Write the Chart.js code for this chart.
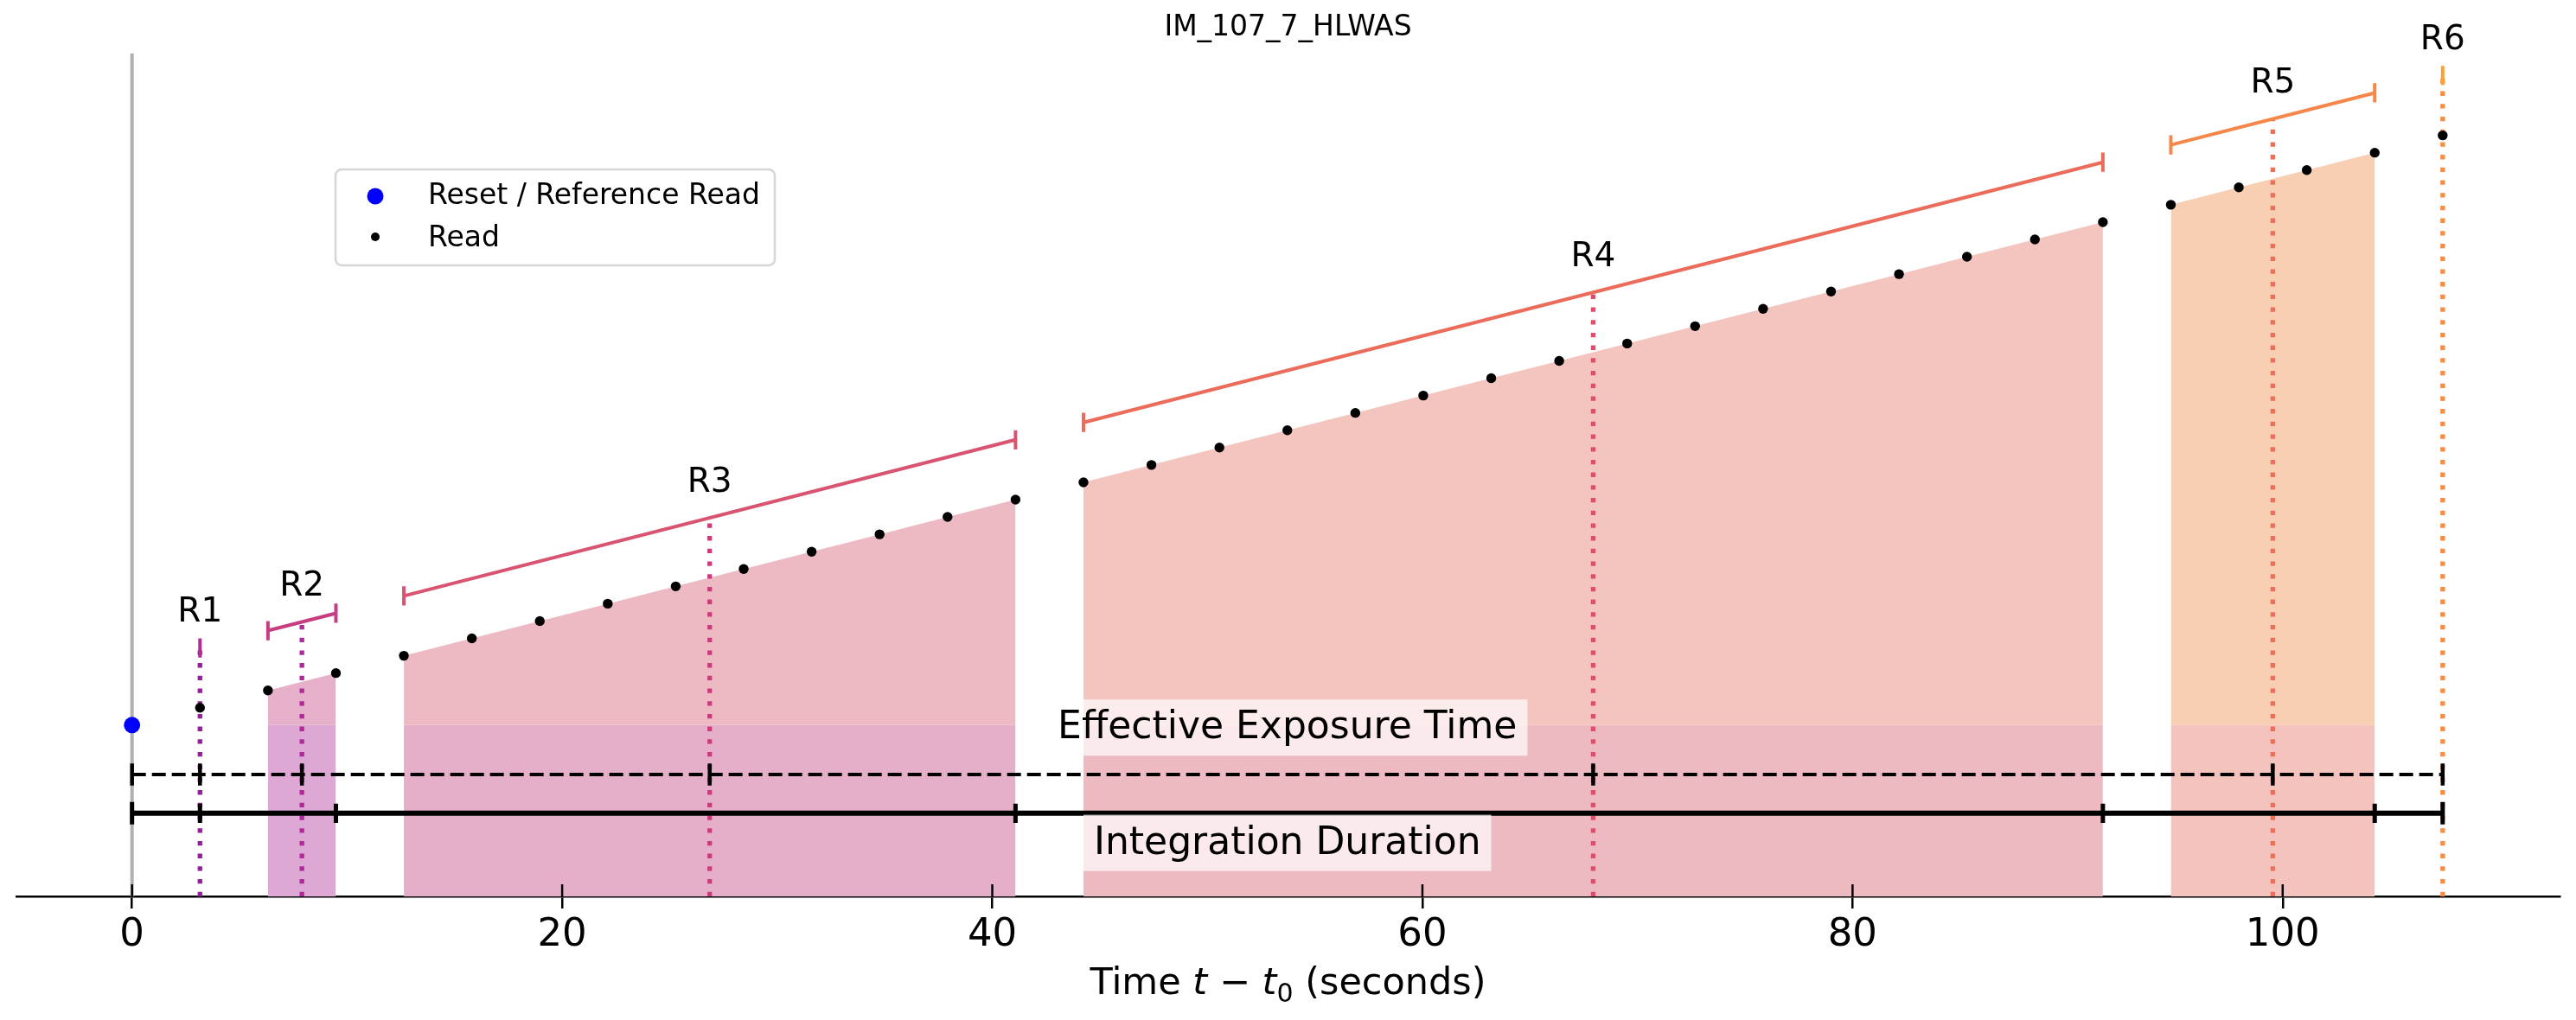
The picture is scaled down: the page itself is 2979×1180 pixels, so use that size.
<!DOCTYPE html>
<html>
<head>
<meta charset="utf-8">
<script src="https://cdn.jsdelivr.net/npm/chart.js@4.4.0/dist/chart.umd.min.js"></script>
<style>
  html, body { margin: 0; padding: 0; background: #fff; }
  #wrap { width: 2979px; height: 1180px; }
</style>
</head>
<body>
<div id="wrap"><canvas id="chart" width="2979" height="1180"></canvas></div>
<script>
// ---- data ----
const groupLabels = ['R1', 'R2', 'R3', 'R4', 'R5', 'R6'];
const groupSizes = [1, 2, 10, 16, 4, 1];
const resetTime = 0;
const resetSignal = 0;
const readTimes = [3.16, 6.32, 9.48, 12.64, 15.80, 18.96, 22.12, 25.28, 28.44, 31.60,
  34.76, 37.92, 41.08, 44.24, 47.40, 50.56, 53.72, 56.88, 60.04, 63.20, 66.36, 69.52,
  72.68, 75.84, 79.00, 82.16, 85.32, 88.48, 91.64, 94.80, 97.96, 101.12, 104.28, 107.44];
const readSignal = [3.16, 6.32, 9.48, 12.64, 15.80, 18.96, 22.12, 25.28, 28.44, 31.60,
  34.76, 37.92, 41.08, 44.24, 47.40, 50.56, 53.72, 56.88, 60.04, 63.20, 66.36, 69.52,
  72.68, 75.84, 79.00, 82.16, 85.32, 88.48, 91.64, 94.80, 97.96, 101.12, 104.28, 107.44];
const xTickStep = 20;
const xLimits = [-5.375, 112.875];
const yLimits = [-31.2, 122.4];

// ---- styling ----
const FONT = '"DejaVu Sans", sans-serif';
const dottedColors = ['#9a1ba0', '#b0289a', '#c93d7c', '#da506c', '#e9705a', '#f68c45'];
const bracketColors = ['#b42c92', '#c63e81', '#d95470', '#eb6c5a', '#f6874a', '#f9a135'];
const fillTopColors = ['#e6b0cb', '#e6b0cb', '#edbac3', '#f4c4be', '#f9cfb4', '#f9cfb4'];
const fillLowColors = ['#dda8d4', '#dda8d4', '#e5afc9', '#edbac2', '#f4c3bd', '#f4c3bd'];
const BRACKET_OFF = 10.9;   // bracket above the reads
const LABEL_OFF = 17.9;     // group name above the reads
const CAP = 1.75;           // bracket end cap half height
const EFF_Y = -9.0;
const INT_Y = -16.05;
const EFF_TEXT_Y = 0.1;
const INT_TEXT_Y = -20.9;

// ---- build groups ----
const groups = [];
let k = 0;
groupSizes.forEach((n, i) => {
  const t = readTimes.slice(k, k + n);
  const s = readSignal.slice(k, k + n);
  k += n;
  const mean = a => a.reduce((p, q) => p + q, 0) / a.length;
  groups.push({ i, label: groupLabels[i], t, s, n,
    start: t[0], end: t[n - 1], sStart: s[0], sEnd: s[n - 1], mid: mean(t), midS: mean(s) });
});
const lastT = readTimes[readTimes.length - 1];

const gap = xv => ({ x: xv, y: null });
function tickMarks(xs, yc, half) {
  const pts = [];
  xs.forEach((xv, j) => {
    const h = typeof half === 'function' ? half(j) : half;
    if (j > 0) pts.push(gap(xv));
    pts.push({ x: xv, y: yc - h }, { x: xv, y: yc + h });
  });
  return pts;
}
function lineSet(data, color, width, extra) {
  return Object.assign({ type: 'line', data, borderColor: color, borderWidth: width,
    pointRadius: 0, fill: false, spanGaps: false, borderCapStyle: 'butt' }, extra || {});
}

const datasets = [];
datasets.push({ type: 'scatter', label: 'Reset / Reference Read', data: [{ x: resetTime, y: resetSignal }],
  pointRadius: 9.5, backgroundColor: '#0000ff', borderWidth: 0, order: 0 });
datasets.push({ type: 'scatter', label: 'Read', data: readTimes.map((t, j) => ({ x: t, y: readSignal[j] })),
  pointRadius: 5.7, backgroundColor: '#000', borderWidth: 0, order: 1 });

const effTicks = [resetTime].concat(groups.map(g => g.mid));
const intTicks = [resetTime].concat(groups.map(g => g.end));
datasets.push(lineSet([{ x: resetTime, y: EFF_Y }, { x: lastT, y: EFF_Y }], '#000', 4, { borderDash: [16, 7], order: 2 }));
datasets.push(lineSet(tickMarks(effTicks, EFF_Y, 2.0), '#000', 4.5, { order: 2 }));
datasets.push(lineSet([{ x: resetTime, y: INT_Y }, { x: lastT, y: INT_Y }], '#000', 6, { order: 2 }));
datasets.push(lineSet(tickMarks(intTicks, INT_Y, j => (j === 0 || j === intTicks.length - 1) ? 2.05 : 1.75), '#000', 5, { order: 2 }));

groups.forEach(g => {
  const y0 = g.sStart + BRACKET_OFF, y1 = g.sEnd + BRACKET_OFF;
  const pts = [{ x: g.start, y: y0 - CAP }, { x: g.start, y: y0 + CAP }, gap(g.start),
    { x: g.start, y: y0 }, { x: g.end, y: y1 }, gap(g.end),
    { x: g.end, y: y1 - CAP }, { x: g.end, y: y1 + CAP }];
  datasets.push(lineSet(pts, bracketColors[g.i], 4, { order: 3 }));
});
groups.forEach(g => {
  const top = g.midS + BRACKET_OFF;
  datasets.push(lineSet([{ x: g.mid, y: yLimits[0] }, { x: g.mid, y: top }], dottedColors[g.i], 5.3,
    { borderDash: [5.3, 9.4], order: 4 }));
});
groups.filter(g => g.n > 1).forEach(g => {
  datasets.push(lineSet(g.t.map((t, j) => ({ x: t, y: g.s[j] })), 'transparent', 0,
    { fill: 'origin', backgroundColor: fillTopColors[g.i], order: 5 }));
  datasets.push(lineSet([{ x: g.start, y: 0 }, { x: g.end, y: 0 }], 'transparent', 0,
    { fill: 'start', backgroundColor: fillLowColors[g.i], order: 5 }));
});
datasets.push(lineSet([{ x: resetTime, y: yLimits[0] }, { x: resetTime, y: yLimits[1] }], '#b0b0b0', 4, { order: 6 }));

// ---- texts, legend and the inward half of the x ticks ----
function boxedText(ctx, text, cx, cy, size) {
  ctx.font = `${size}px ${FONT}`;
  const w = ctx.measureText(text).width;
  ctx.fillStyle = 'rgba(255,255,255,0.7)';
  ctx.fillRect(cx - w / 2 - 12, cy - 29, w + 24, 65);
  ctx.fillStyle = '#000';
  ctx.textAlign = 'center';
  ctx.textBaseline = 'alphabetic';
  ctx.fillText(text, cx, cy + 0.365 * size);
}

const overlay = {
  id: 'overlay',
  afterDraw(chart) {
    const { ctx, chartArea, scales: { x, y } } = chart;
    ctx.save();
    ctx.strokeStyle = '#000';
    ctx.lineWidth = 2.5;
    x.ticks.forEach(tk => {
      const px = x.getPixelForValue(tk.value);
      ctx.beginPath();
      ctx.moveTo(px, chartArea.bottom);
      ctx.lineTo(px, chartArea.bottom - 14);
      ctx.stroke();
    });

    ctx.fillStyle = '#000';
    ctx.textAlign = 'center';
    ctx.textBaseline = 'alphabetic';
    ctx.font = `39px ${FONT}`;
    groups.forEach(g => {
      ctx.fillText(g.label, x.getPixelForValue(g.mid), y.getPixelForValue(g.midS + LABEL_OFF) + 0.365 * 39);
    });

    const cx = x.getPixelForValue((resetTime + lastT) / 2);
    boxedText(ctx, 'Effective Exposure Time', cx, y.getPixelForValue(EFF_TEXT_Y), 44);
    boxedText(ctx, 'Integration Duration', cx, y.getPixelForValue(INT_TEXT_Y), 44);

    // legend
    const lx = 388, ly = 196, lw = 508, lh = 111;
    ctx.beginPath();
    ctx.roundRect(lx, ly, lw, lh, 7);
    ctx.fillStyle = 'rgba(255,255,255,0.8)';
    ctx.fill();
    ctx.strokeStyle = '#d6d6d6';
    ctx.lineWidth = 2.5;
    ctx.stroke();
    ctx.fillStyle = '#0000ff';
    ctx.beginPath(); ctx.arc(434, 227, 9.5, 0, Math.PI * 2); ctx.fill();
    ctx.fillStyle = '#000';
    ctx.beginPath(); ctx.arc(434, 274, 5, 0, Math.PI * 2); ctx.fill();
    ctx.font = `33px ${FONT}`;
    ctx.textAlign = 'left';
    ctx.fillText(datasets[0].label, 495, 224 + 0.365 * 33);
    ctx.fillText(datasets[1].label, 495, 272.5 + 0.365 * 33);

    // x axis title with math pieces
    const size = 43;
    const parts = [
      { t: 'Time ', f: `${size}px ${FONT}`, dy: 0 },
      { t: 't', f: `italic ${size}px ${FONT}`, dy: 0 },
      { t: ' \u2212 ', f: `${size}px ${FONT}`, dy: 0 },
      { t: 't', f: `italic ${size}px ${FONT}`, dy: 0 },
      { t: '0', f: `${Math.round(size * 0.7)}px ${FONT}`, dy: size * 0.2 },
      { t: ' (seconds)', f: `${size}px ${FONT}`, dy: 0 }
    ];
    let total = 0;
    parts.forEach(p => { ctx.font = p.f; p.w = ctx.measureText(p.t).width; total += p.w; });
    let px = (chartArea.left + chartArea.right) / 2 - total / 2;
    const base = 1150;
    parts.forEach(p => { ctx.font = p.f; ctx.fillText(p.t, px, base + p.dy); px += p.w; });
    ctx.restore();
  }
};

new Chart(document.getElementById('chart').getContext('2d'), {
  type: 'scatter',
  data: { datasets },
  options: {
    responsive: false,
    devicePixelRatio: 1,
    animation: false,
    layout: { padding: { left: 19, right: 19, top: 0, bottom: 0 } },
    plugins: {
      legend: { display: false },
      tooltip: { enabled: false },
      title: { display: true, text: 'IM_107_7_HLWAS', color: '#000',
        font: { family: FONT, size: 33, weight: 'normal' }, padding: { top: 13, bottom: 9 } }
    },
    scales: {
      x: {
        type: 'linear', min: xLimits[0], max: xLimits[1],
        afterFit: s => { s.height = 143; },
        border: { display: true, color: '#000', width: 2.5 },
        grid: { drawOnChartArea: false, drawTicks: true, tickLength: 14, color: '#000', lineWidth: 2.5 },
        ticks: { stepSize: xTickStep, includeBounds: false, color: '#000', padding: 4,
          maxRotation: 0, autoSkip: false, font: { family: FONT, size: 45 } }
      },
      y: { display: false, min: yLimits[0], max: yLimits[1] }
    }
  },
  plugins: [overlay]
});
</script>
</body>
</html>
